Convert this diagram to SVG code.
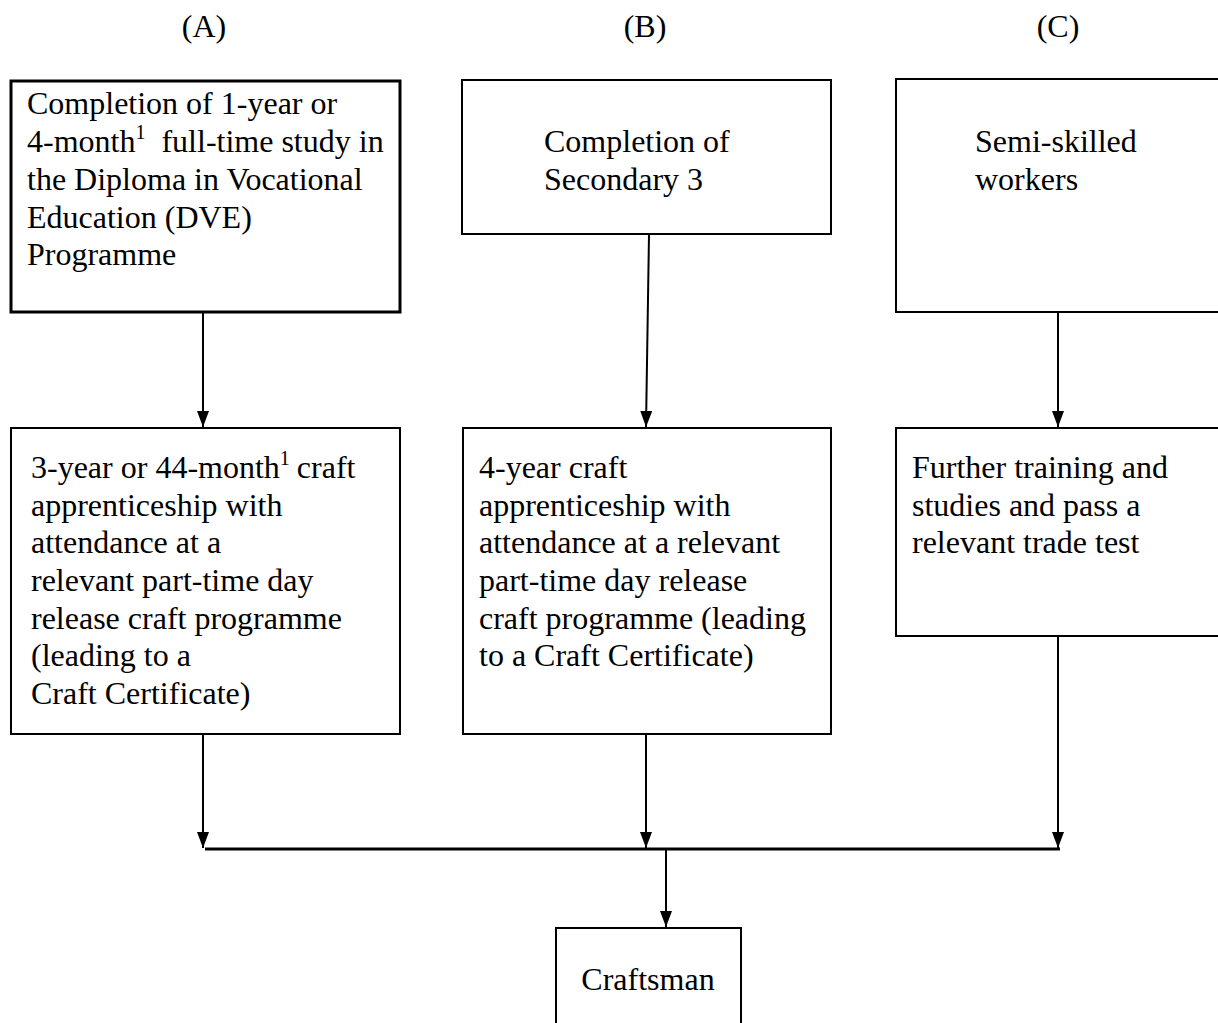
<svg xmlns="http://www.w3.org/2000/svg" width="1218" height="1023" viewBox="0 0 1218 1023">
<style>
text{font-family:"Liberation Serif","Times New Roman",serif;font-size:32px;fill:#000}
.box{fill:#fff;stroke:#000;stroke-width:2}
.thick{stroke-width:3}
.conn{stroke:#000;stroke-width:2;fill:none}
.sup{font-size:20px}
</style>
<defs>
<marker id="ad" viewBox="0 0 16 12" refX="16" refY="6" markerWidth="16" markerHeight="12" markerUnits="userSpaceOnUse" orient="auto">
<path d="M0,0 L16,6 L0,12 Z" fill="#000"/>
</marker>
</defs>
<g id="headers">
<text x="204" y="37" text-anchor="middle">(A)</text>
<text x="645" y="37" text-anchor="middle">(B)</text>
<text x="1058" y="37" text-anchor="middle">(C)</text>
</g>
<g id="connectors">
<path class="conn" d="M203,312 L203,427" marker-end="url(#ad)"/>
<path class="conn" d="M649,234 L646,427" marker-end="url(#ad)"/>
<path class="conn" d="M1058,312 L1058,427" marker-end="url(#ad)"/>
<path class="conn" d="M203,734 L203,848" marker-end="url(#ad)"/>
<path class="conn" d="M646,734 L646,848" marker-end="url(#ad)"/>
<path class="conn" d="M1058,636 L1058,848" marker-end="url(#ad)"/>
<path class="conn" d="M205,849 L1060,849" style="stroke-width:3"/>
<path class="conn" d="M666,850 L666,927" marker-end="url(#ad)"/>
</g>
<g id="nodeA1">
<rect class="box thick" x="11" y="81" width="389" height="231"/>
<text x="27" y="114">Completion of 1-year or</text>
<text x="27" y="152">4-month<tspan class="sup" dy="-13">1</tspan><tspan dy="13" dx="16">full-time study in</tspan></text>
<text x="27" y="190">the Diploma in Vocational</text>
<text x="27" y="228">Education (DVE)</text>
<text x="27" y="265">Programme</text>
</g>
<g id="nodeB1">
<rect class="box" x="462" y="80" width="369" height="154"/>
<text x="544" y="152">Completion of</text>
<text x="544" y="190">Secondary 3</text>
</g>
<g id="nodeC1">
<rect class="box" x="896" y="79" width="340" height="233"/>
<text x="975" y="152">Semi-skilled</text>
<text x="975" y="190">workers</text>
</g>
<g id="nodeA2">
<rect class="box" x="11" y="428" width="389" height="306"/>
<text x="31" y="478">3-year or 44-month<tspan class="sup" dy="-13">1</tspan><tspan dy="13" dx="7">craft</tspan></text>
<text x="31" y="516">apprenticeship with</text>
<text x="31" y="553">attendance at a</text>
<text x="31" y="591">relevant part-time day</text>
<text x="31" y="629">release craft programme</text>
<text x="31" y="666">(leading to a</text>
<text x="31" y="704">Craft Certificate)</text>
</g>
<g id="nodeB2">
<rect class="box" x="463" y="428" width="368" height="306"/>
<text x="479" y="478">4-year craft</text>
<text x="479" y="516">apprenticeship with</text>
<text x="479" y="553">attendance at a relevant</text>
<text x="479" y="591">part-time day release</text>
<text x="479" y="629">craft programme (leading</text>
<text x="479" y="666">to a Craft Certificate)</text>
</g>
<g id="nodeC2">
<rect class="box" x="896" y="428" width="340" height="208"/>
<text x="912" y="478">Further training and</text>
<text x="912" y="516">studies and pass a</text>
<text x="912" y="553">relevant trade test</text>
</g>
<g id="nodeCraftsman">
<rect class="box" x="556" y="928" width="185" height="120"/>
<text x="648" y="990" text-anchor="middle">Craftsman</text>
</g>
</svg>
